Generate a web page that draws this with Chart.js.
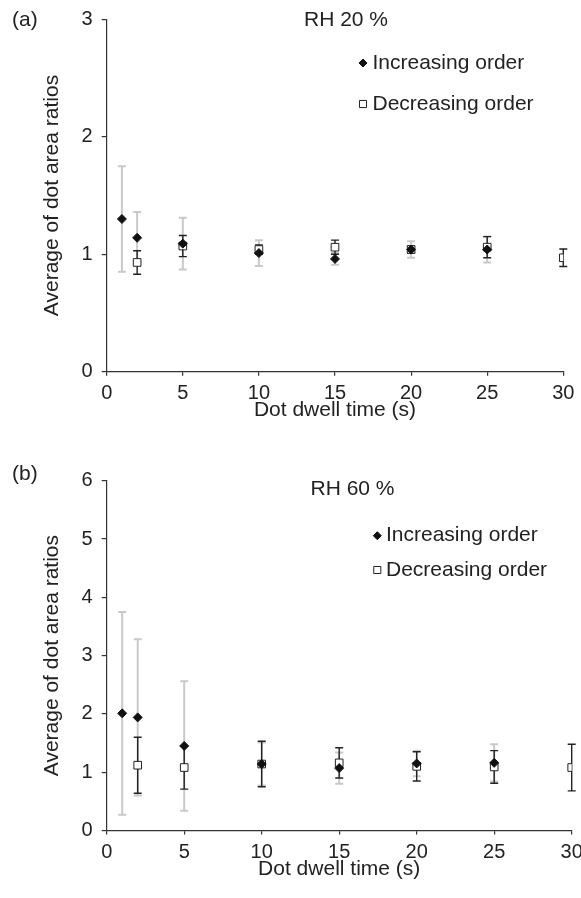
<!DOCTYPE html>
<html>
<head>
<meta charset="utf-8">
<title>Dot area ratios</title>
<script src="https://cdn.jsdelivr.net/npm/chart.js@4.4.1/dist/chart.umd.min.js"></script>
<style>
    html, body { margin: 0; padding: 0; background: #fff; }
    #wrap { position: relative; width: 581px; height: 898px; }
    canvas { position: absolute; left: 0; }
</style>
</head>
<body>
<div id="wrap">
    <canvas id="chartA" width="581" height="440" style="top:0;width:581px;height:440px"></canvas>
    <canvas id="chartB" width="581" height="458" style="top:440px;width:581px;height:458px"></canvas>
</div>
<script>
// Data (mean and +/- deviation per dwell time)
const seriesNames = ['Increasing order', 'Decreasing order'];
const xTitle = 'Dot dwell time (s)';
const yTitle = 'Average of dot area ratios';
const xMax = 30;
const xStep = 5;

// (a) RH 20 %
const incTimesA = [1, 2, 5, 10, 15, 20, 25];
const incMeansA = [1.30, 1.14, 1.09, 1.01, 0.96, 1.04, 1.04];
const incSdA = [0.45, 0.22, 0.22, 0.11, 0.05, 0.07, 0.11];
const decTimesA = [2, 5, 10, 15, 20, 25, 30];
const decMeansA = [0.93, 1.07, 1.04, 1.06, 1.04, 1.06, 0.97];
const decSdA = [0.10, 0.09, 0.04, 0.06, 0.03, 0.09, 0.075];
const yMaxA = 3;

// (b) RH 60 %
const incTimesB = [1, 2, 5, 10, 15, 20, 25];
const incMeansB = [2.01, 1.94, 1.45, 1.14, 1.07, 1.15, 1.16];
const incSdB = [1.74, 1.34, 1.11, 0.37, 0.27, 0.22, 0.32];
const decTimesB = [2, 5, 10, 15, 20, 25, 30];
const decMeansB = [1.12, 1.08, 1.14, 1.16, 1.10, 1.09, 1.08];
const decSdB = [0.48, 0.37, 0.39, 0.26, 0.25, 0.28, 0.40];
const yMaxB = 6;

Chart.defaults.font.family = '"Liberation Sans", Arial, Helvetica, sans-serif';
Chart.defaults.color = '#222';

const INK = '#222';
const AXIS = '#333';
const GREY_BAR = '#c9c9c9';

function toPoints(xs, ys) {
    return xs.map((x, i) => ({ x: x, y: ys[i] }));
}

// Draws vertical error bars with caps, using the chart scales
const errorBars = {
    id: 'errorBars',
    beforeDatasetsDraw(chart) {
        const { ctx, scales: { x, y } } = chart;
        ctx.save();
        chart.data.datasets.forEach(ds => {
            ctx.strokeStyle = ds.errorColor;
            ctx.lineWidth = ds.errorWidth;
            ds.data.forEach((p, i) => {
                const sd = ds.errors[i];
                const px = x.getPixelForValue(p.x);
                const top = y.getPixelForValue(p.y + sd);
                const bot = y.getPixelForValue(Math.max(0, p.y - sd));
                ctx.beginPath();
                ctx.moveTo(px, top);
                ctx.lineTo(px, bot);
                ctx.moveTo(px - 4, top);
                ctx.lineTo(px + 4, top);
                ctx.moveTo(px - 4, bot);
                ctx.lineTo(px + 4, bot);
                ctx.stroke();
            });
        });
        ctx.restore();
    }
};

// Panel tag, RH label and the legend inside the plot
const panelText = {
    id: 'panelText',
    afterDraw(chart, args, opts) {
        const ctx = chart.ctx;
        ctx.save();
        ctx.fillStyle = INK;
        ctx.font = '21px "Liberation Sans", Arial, Helvetica, sans-serif';
        ctx.textBaseline = 'middle';
        ctx.textAlign = 'left';
        ctx.fillText(opts.tag, opts.tagX, opts.tagY);
        ctx.fillText(opts.rh, opts.rhX, opts.rhY);

        chart.data.datasets.forEach((ds, i) => {
            const ly = opts.legY[i];
            ctx.fillStyle = ds.backgroundColor;
            ctx.strokeStyle = ds.borderColor;
            ctx.lineWidth = 1;
            Chart.helpers.drawPoint(ctx, {
                pointStyle: ds.pointStyle,
                radius: opts.legRadius[i],
                borderWidth: 1,
                rotation: 0
            }, opts.legX, ly);
            ctx.fillStyle = INK;
            ctx.fillText(ds.label, opts.textX, ly);
        });
        ctx.restore();
    }
};

function makeChart(id, p) {
    const ctx = document.getElementById(id).getContext('2d');
    return new Chart(ctx, {
        type: 'scatter',
        data: {
            datasets: [{
                label: seriesNames[0],
                data: toPoints(p.incTimes, p.incMeans),
                errors: p.incSd,
                errorColor: GREY_BAR,
                errorWidth: 2,
                pointStyle: 'rectRot',
                pointRadius: 4.5,
                backgroundColor: '#111',
                borderColor: '#111',
                borderWidth: 1
            }, {
                label: seriesNames[1],
                data: toPoints(p.decTimes, p.decMeans),
                errors: p.decSd,
                errorColor: INK,
                errorWidth: 1.4,
                pointStyle: 'rect',
                pointRadius: 5.4,
                backgroundColor: '#fff',
                borderColor: INK,
                borderWidth: 1
            }]
        },
        options: {
            responsive: false,
            animation: false,
            events: [],
            layout: {
                padding: { left: 40, right: p.padRight, top: p.padTop, bottom: p.padBottom }
            },
            plugins: {
                legend: { display: false },
                tooltip: { enabled: false },
                panelText: p.text
            },
            scales: {
                x: {
                    type: 'linear',
                    min: 0,
                    max: xMax,
                    ticks: { stepSize: xStep, color: INK, font: { size: 20 }, padding: 6, maxRotation: 0 },
                    grid: { drawOnChartArea: false, tickLength: 4, color: AXIS, lineWidth: 1.2 },
                    border: { color: AXIS, width: 1.2 },
                    title: { display: true, text: xTitle, color: INK, font: { size: 21 }, padding: 0 },
                    afterFit(s) {
                        s.height = 50.9;
                        s.paddingLeft = 0;
                        s.paddingRight = 0;
                    }
                },
                y: {
                    type: 'linear',
                    min: 0,
                    max: p.yMax,
                    ticks: { stepSize: 1, color: INK, font: { size: 20 }, padding: 9 },
                    grid: { drawOnChartArea: false, tickLength: 5, color: AXIS, lineWidth: 1.2 },
                    border: { color: AXIS, width: 1.2 },
                    title: { display: true, text: yTitle, color: INK, font: { size: 21 }, padding: 0 },
                    afterFit(s) {
                        s.width = 66.7;
                        s.paddingTop = 0;
                        s.paddingBottom = 0;
                    }
                }
            }
        },
        plugins: [errorBars, panelText]
    });
}

makeChart('chartA', {
    incTimes: incTimesA, incMeans: incMeansA, incSd: incSdA,
    decTimes: decTimesA, decMeans: decMeansA, decSd: decSdA,
    yMax: yMaxA,
    padTop: 19.3, padBottom: 17.4, padRight: 17.7,
    text: {
        tag: '(a)', tagX: 12, tagY: 20,
        rh: 'RH 20 %', rhX: 304, rhY: 20.5,
        legX: 363, legY: [63, 104], legRadius: [4, 5], textX: 372.5
    }
});

makeChart('chartB', {
    incTimes: incTimesB, incMeans: incMeansB, incSd: incSdB,
    decTimes: decTimesB, decMeans: decMeansB, decSd: decSdB,
    yMax: yMaxB,
    padTop: 40.7, padBottom: 16.6, padRight: 9.3,
    text: {
        tag: '(b)', tagX: 12, tagY: 34,
        rh: 'RH 60 %', rhX: 310.5, rhY: 49,
        legX: 377.3, legY: [95.7, 130], legRadius: [4, 5], textX: 386
    }
});
</script>
</body>
</html>
